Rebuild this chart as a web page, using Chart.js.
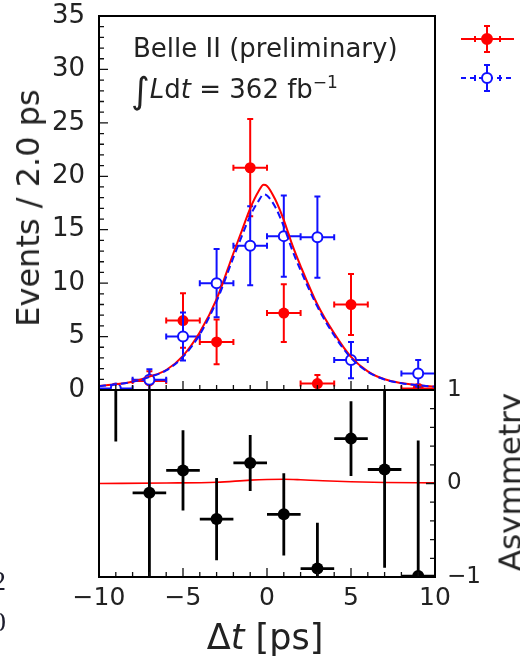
<!DOCTYPE html>
<html>
<head>
<meta charset="utf-8">
<title>Belle II - delta t</title>
<script src="https://cdn.jsdelivr.net/npm/chart.js@4.4.1/dist/chart.umd.min.js"></script>
<style>
    html, body { margin: 0; padding: 0; background: #fff; }
    #page { position: relative; width: 520px; height: 660px; overflow: hidden; font-family: 'DejaVu Sans', sans-serif; color: #222; }
    #page canvas { position: absolute; left: 0; top: 0; }
    .txt { position: absolute; white-space: nowrap; line-height: 1; }
    .rot { transform: translate(-50%, -50%) rotate(-90deg); }
    .serif { font-family: 'Liberation Serif', 'DejaVu Serif', serif; color: #1c1c2c; }
</style>
</head>
<body>
<div id="page">
    <canvas id="chart-top" width="520" height="660"></canvas>
    <canvas id="chart-asym" width="520" height="660"></canvas>
    <div class="txt" style="left:133px; top:35px; font-size:26px;">Belle II (preliminary)</div>
    <div class="txt" style="left:131px; top:73px; font-size:26px;"><span style="font-size:36px; vertical-align:-5px;">∫</span><i>L</i>d<i>t</i> = 362 fb<sup style="font-size:17px;">−1</sup></div>
    <div class="txt rot" style="left:28px; top:208px; font-size:32px;">Events / 2.0 ps</div>
    <div class="txt rot" style="left:510px; top:482px; font-size:31px;">Asymmetry</div>
    <div class="txt" style="left:265px; top:637px; font-size:35px; transform: translate(-50%, -50%);">Δ<i>t</i> [ps]</div>
    <div class="txt serif" style="left:-8px; top:567px; font-size:28px;">2</div>
    <div class="txt serif" style="left:-8px; top:608px; font-size:28px;">0</div>
</div>

<script>
// values

const binCenters = [-9, -7, -5, -3, -1, 1, 3, 5, 7, 9];
const binHalfWidth = 1;

const redCounts = [null, 0.85, 6.5, 4.5, 20.8, 7.2, 0.6, 8.0, null, 0.15];
const redErrors = [null, 0.9, 2.55, 2.1, 4.55, 2.7, 0.8, 2.85, null, 0.35];
const blueCounts = [0.15, 0.95, 5.0, 10.0, 13.5, 14.4, 14.3, 2.8, null, 1.55];
const blueErrors = [0.4, 1.0, 2.25, 3.2, 3.7, 3.8, 3.8, 1.7, null, 1.25];

const fitTimes = [-10, -9, -8, -7, -6, -5, -4, -3, -2, -1.5, -1, -0.5, -0.2, 0, 0.5, 1, 1.5, 2, 3, 4, 5, 6, 7, 8, 9, 10];
const redFit = [0.37, 0.53, 0.78, 1.25, 1.87, 3.2, 5.4, 8.5, 12.8, 14.9, 17.0, 18.6, 19.2, 19.1, 17.8, 15.9, 13.6, 11.6, 8.0, 5.3, 3.1, 1.75, 1.0, 0.65, 0.45, 0.32];
const blueFit = [0.36, 0.52, 0.76, 1.22, 1.83, 3.1, 5.2, 8.3, 12.4, 14.4, 16.3, 17.7, 18.3, 18.2, 17.1, 15.3, 13.1, 11.2, 7.8, 5.1, 3.0, 1.7, 0.98, 0.63, 0.44, 0.31];

const asymValues = [1.5, -0.1, 0.14, -0.38, 0.22, -0.33, -0.91, 0.48, 0.15, -0.99];
const asymErrors = [1.05, 1.2, 0.43, 0.44, 0.30, 0.44, 0.49, 0.40, 1.05, 1.45];

const asymFitTimes = [-10, -6, -3, -1, 0, 1, 2, 3, 5, 7, 10];
const asymFit = [0, 0.005, 0.014, 0.036, 0.043, 0.045, 0.04, 0.032, 0.018, 0.01, 0.007];

const timeTickLabels = [-10, -5, 0, 5, 10];
const countTickLabels = [0, 5, 10, 15, 20, 25, 30, 35];
const asymTickLabels = [-1, 0, 1];

//=====> helpers

const FONT = 'DejaVu Sans';
const RED = '#ff0000';
const BLUE = '#1010ff';

function minus(v) {
    return String(v).replace('-', '\u2212');
}

function withErrors(values, errors) {
    var pts = [];
    binCenters.forEach(function(c, i) {
        if (values[i] === null) return;
        pts.push({ x: c, y: values[i], xErr: binHalfWidth, yErr: errors[i] });
    });
    return pts;
}

function curve(xs, ys) {
    return xs.map(function(x, i) { return { x: x, y: ys[i] }; });
}

// the frame is placed by layout padding, so label overhang must not push it
function fixSize(w, h) {
    return function(s) {
        if (w !== null) s.width = w;
        if (h !== null) s.height = h;
        s.paddingTop = 0; s.paddingBottom = 0; s.paddingLeft = 0; s.paddingRight = 0;
    };
}

// error bars are drawn just before the markers of their own dataset
const errorBars = {
    id: 'errorBars',
    beforeDatasetDraw(chart, args) {
        const ds = chart.data.datasets[args.index];
        if (!ds.bars) return;
        const { ctx, chartArea: a, scales: { x, y } } = chart;
        const st = ds.bars;
        ctx.save();
        ctx.beginPath();
        ctx.rect(a.left, a.top, a.right - a.left, a.bottom - a.top);
        ctx.clip();
        ctx.strokeStyle = st.color;
        ctx.lineWidth = st.width;
        ctx.beginPath();
        ds.data.forEach(function(p) {
            const px = x.getPixelForValue(p.x), py = y.getPixelForValue(p.y);
            const x0 = x.getPixelForValue(p.x - p.xErr), x1 = x.getPixelForValue(p.x + p.xErr);
            const y0 = y.getPixelForValue(p.y + p.yErr), y1 = y.getPixelForValue(p.y - p.yErr);
            ctx.moveTo(x0, py); ctx.lineTo(x1, py);
            ctx.moveTo(px, y0); ctx.lineTo(px, y1);
            if (st.cap) {
                ctx.moveTo(px - st.cap, y0); ctx.lineTo(px + st.cap, y0);
                ctx.moveTo(px - st.cap, y1); ctx.lineTo(px + st.cap, y1);
                ctx.moveTo(x0, py - st.cap); ctx.lineTo(x0, py + st.cap);
                ctx.moveTo(x1, py - st.cap); ctx.lineTo(x1, py + st.cap);
            }
        });
        ctx.stroke();
        ctx.restore();
    }
};

// matplotlib style: ticks pointing into the frame, frame on top
const innerTicks = {
    id: 'innerTicks',
    afterDraw(chart, args, opts) {
        const { ctx, chartArea: a } = chart;
        ctx.save();
        ctx.strokeStyle = '#111';
        ctx.lineWidth = 1.3;
        ctx.beginPath();
        (opts.axes || []).forEach(function(id) {
            const s = chart.scales[id];
            s.ticks.forEach(function(t) {
                const len = t.label !== '' ? 9 : 5;
                const p = s.getPixelForValue(t.value);
                if (s.isHorizontal()) {
                    ctx.moveTo(p, a.bottom); ctx.lineTo(p, a.bottom - len);
                } else if (s.position === 'right') {
                    ctx.moveTo(a.right, p); ctx.lineTo(a.right - len, p);
                } else {
                    ctx.moveTo(a.left, p); ctx.lineTo(a.left + len, p);
                }
            });
        });
        ctx.stroke();
        ctx.lineWidth = 2;
        ctx.strokeStyle = '#000';
        ctx.strokeRect(a.left, a.top, a.right - a.left, a.bottom - a.top);
        ctx.restore();
    }
};

// legend glyphs only, their labels are outside the picture
const legendGlyphs = {
    id: 'legendGlyphs',
    afterDraw(chart) {
        const ctx = chart.ctx;
        const rows = [
            { y: 39, color: RED, dash: [], fill: RED },
            { y: 78, color: BLUE, dash: [5, 4], fill: '#fff' }
        ];
        rows.forEach(function(r) {
            ctx.save();
            ctx.strokeStyle = r.color;
            ctx.lineWidth = 2;
            ctx.setLineDash(r.dash);
            ctx.beginPath();
            ctx.moveTo(461, r.y); ctx.lineTo(514, r.y);
            ctx.stroke();
            ctx.setLineDash([]);
            ctx.beginPath();
            ctx.moveTo(487, r.y - 13); ctx.lineTo(487, r.y + 13);
            ctx.moveTo(484, r.y - 13); ctx.lineTo(490, r.y - 13);
            ctx.moveTo(484, r.y + 13); ctx.lineTo(490, r.y + 13);
            ctx.moveTo(475, r.y - 3); ctx.lineTo(475, r.y + 3);
            ctx.moveTo(500, r.y - 3); ctx.lineTo(500, r.y + 3);
            ctx.stroke();
            ctx.beginPath();
            ctx.arc(487, r.y, 5, 0, Math.PI * 2);
            ctx.fillStyle = r.fill;
            ctx.fill();
            ctx.stroke();
            ctx.restore();
        });
    }
};

//=====> top panel: event counts

var domChartTop = document.getElementById('chart-top');
new Chart(domChartTop, {
    type: 'scatter',
    data: {
        datasets: [
            {
                label: 'blue fit',
                data: curve(fitTimes, blueFit),
                showLine: true,
                borderColor: BLUE,
                borderWidth: 2,
                borderDash: [7, 4],
                pointRadius: 0,
                cubicInterpolationMode: 'monotone',
                clip: 0,
                order: 1
            },
            {
                label: 'red fit',
                data: curve(fitTimes, redFit),
                showLine: true,
                borderColor: RED,
                borderWidth: 2,
                pointRadius: 0,
                cubicInterpolationMode: 'monotone',
                clip: 0,
                order: 2
            },
            {
                label: 'blue data',
                data: withErrors(blueCounts, blueErrors),
                bars: { color: BLUE, width: 2, cap: 3 },
                pointRadius: 5,
                pointBackgroundColor: '#fff',
                pointBorderColor: BLUE,
                pointBorderWidth: 2,
                clip: 0,
                order: 3
            },
            {
                label: 'red data',
                data: withErrors(redCounts, redErrors),
                bars: { color: RED, width: 2, cap: 3 },
                pointRadius: 5.5,
                pointBackgroundColor: RED,
                pointBorderColor: RED,
                pointBorderWidth: 0,
                clip: 0,
                order: 4
            }
        ]
    },
    options: {
        responsive: false,
        animation: false,
        events: [],
        layout: { autoPadding: false, padding: { left: 0, top: 16, right: 85, bottom: 270 } },
        plugins: { legend: { display: false }, tooltip: { enabled: false }, innerTicks: { axes: ['x', 'y'] } },
        scales: {
            x: {
                type: 'linear', min: -10, max: 10,
                grid: { display: false, drawTicks: false }, border: { display: false },
                ticks: {
                    display: false, stepSize: 1, autoSkip: false, maxTicksLimit: 100,
                    callback: function(v) { return timeTickLabels.includes(v) ? minus(v) : ''; }
                },
                afterFit: fixSize(null, 0)
            },
            y: {
                type: 'linear', min: 0, max: 35,
                grid: { display: false, drawTicks: false }, border: { display: false },
                ticks: {
                    stepSize: 1, autoSkip: false, maxTicksLimit: 100, padding: 14,
                    color: '#222', font: { family: FONT, size: 26 },
                    callback: function(v) { return countTickLabels.includes(v) ? minus(v) : ''; }
                },
                afterFit: fixSize(99, null)
            }
        }
    },
    plugins: [errorBars, innerTicks]
});

//=====> bottom panel: asymmetry

var domChartAsym = document.getElementById('chart-asym');
new Chart(domChartAsym, {
    type: 'scatter',
    data: {
        datasets: [
            {
                label: 'asymmetry',
                data: binCenters.map(function(c, i) {
                    return { x: c, y: asymValues[i], xErr: binHalfWidth, yErr: asymErrors[i] };
                }),
                bars: { color: '#000', width: 2.8, cap: 0 },
                pointRadius: 6,
                pointBackgroundColor: '#000',
                pointBorderColor: '#000',
                pointBorderWidth: 0,
                clip: 0,
                order: 1
            },
            {
                label: 'asymmetry fit',
                data: curve(asymFitTimes, asymFit),
                showLine: true,
                borderColor: RED,
                borderWidth: 1.6,
                pointRadius: 0,
                cubicInterpolationMode: 'monotone',
                clip: 0,
                order: 2
            }
        ]
    },
    options: {
        responsive: false,
        animation: false,
        events: [],
        layout: { autoPadding: false, padding: { left: 99, top: 390, right: 0, bottom: 0 } },
        plugins: { legend: { display: false }, tooltip: { enabled: false }, innerTicks: { axes: ['x', 'y'] } },
        scales: {
            x: {
                type: 'linear', min: -10, max: 10,
                grid: { display: false, drawTicks: false }, border: { display: false },
                ticks: {
                    stepSize: 1, autoSkip: false, maxTicksLimit: 100, maxRotation: 0, padding: 6,
                    color: '#222', font: { family: FONT, size: 25 },
                    callback: function(v) { return timeTickLabels.includes(v) ? minus(v) : ''; }
                },
                afterFit: fixSize(null, 83)
            },
            y: {
                type: 'linear', position: 'right', min: -1, max: 1,
                grid: { display: false, drawTicks: false }, border: { display: false },
                ticks: {
                    stepSize: 0.2, autoSkip: false, maxTicksLimit: 100, padding: 12,
                    color: '#222', font: { family: FONT, size: 23 },
                    callback: function(v) { return asymTickLabels.includes(v) ? minus(v) : ''; }
                },
                afterFit: fixSize(85, null)
            }
        }
    },
    plugins: [errorBars, innerTicks, legendGlyphs]
});
</script>
</body>
</html>
